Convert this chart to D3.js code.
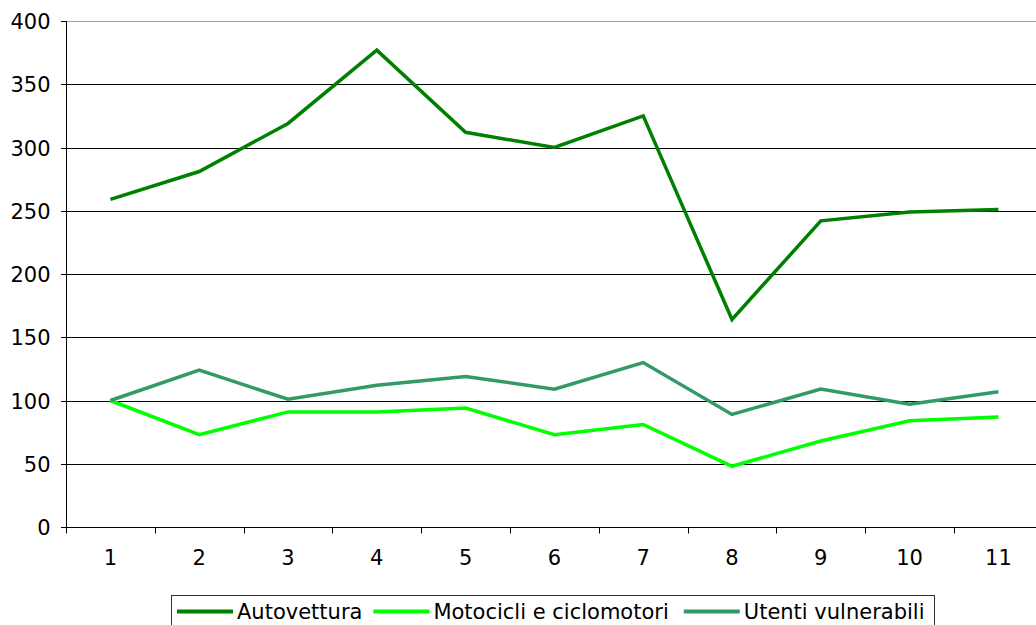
<!DOCTYPE html>
<meta charset="utf-8">
<style>
body {margin: 0; background: white;}
text {font-family: "DejaVu Sans", Verdana, sans-serif; fill: #000; font-size: 21px;}
.grid line {stroke-width: 1px; shape-rendering: crispEdges;}
.series {fill: none; stroke-width: 3.5px; stroke-linejoin: miter;}
</style>
<body>
<script src="https://cdnjs.cloudflare.com/ajax/libs/d3/7.8.5/d3.min.js"></script>
<script>
var categories = ["1", "2", "3", "4", "5", "6", "7", "8", "9", "10", "11"]
var autovettura = [259, 281, 319, 377, 312, 300, 325, 164, 242, 249, 251]
var motocicli = [100, 73, 91, 91, 94, 73, 81, 48, 68, 84, 87]
var utenti = [100, 124, 101, 112, 119, 109, 130, 89, 109, 97, 107]
var yTicks = [0, 50, 100, 150, 200, 250, 300, 350, 400]
var seriesNames = ["Autovettura", "Motocicli e ciclomotori", "Utenti vulnerabili"]
var seriesColors = ["#008000", "#00ff00", "#339966"]

var width = 1036, height = 625
var plotLeft = 66, plotTop = 21, plotBottom = 527, bandW = 88.8
var plotRight = plotLeft + bandW * categories.length

var x = d3.scaleBand().domain(categories).range([plotLeft, plotRight])
var y = d3.scaleLinear().domain([0, 400]).range([plotBottom, plotTop])

var svg = d3.select("body").append("svg")
  .attr("width", width).attr("height", height)

// gridlines (top one is the grey plot border)
svg.append("g").attr("class", "grid")
  .selectAll("line").data(yTicks.filter(function(d) { return d > 0 })).enter().append("line")
  .attr("x1", plotLeft).attr("x2", plotRight)
  .attr("y1", function(d) { return Math.round(y(d)) + 0.5 })
  .attr("y2", function(d) { return Math.round(y(d)) + 0.5 })
  .style("stroke", function(d) { return d == 400 ? "#a0a0a0" : "#000" })

// y axis
var yAxis = svg.append("g")
  .attr("transform", "translate(" + (plotLeft + 0.5) + ",0)")
  .call(d3.axisLeft(y).tickValues(yTicks).tickSize(6).tickSizeOuter(0).tickPadding(10))
yAxis.selectAll(".tick").attr("transform", function(d) { return "translate(0," + (Math.round(y(d)) + 0.5) + ")" })
yAxis.selectAll("text").style("font-size", "21px").attr("dy", "0.36em")
yAxis.selectAll("line, path").style("stroke", "#000").style("shape-rendering", "crispEdges")
yAxis.select(".domain").attr("d", "M0," + plotTop + "V" + (plotBottom + 6))

// x axis: ticks between categories
var xAxis = svg.append("g").attr("transform", "translate(0," + (Math.round(plotBottom) + 0.5) + ")")
xAxis.append("line").attr("x1", plotLeft).attr("x2", plotRight).style("stroke", "#000")
xAxis.selectAll(".tk").data(d3.range(categories.length + 1)).enter().append("line")
  .attr("x1", function(i) { return Math.round(plotLeft + i * x.step()) + 0.5 })
  .attr("x2", function(i) { return Math.round(plotLeft + i * x.step()) + 0.5 })
  .attr("y1", 0).attr("y2", 6).style("stroke", "#000")
xAxis.selectAll("text").data(categories).enter().append("text")
  .attr("x", function(d) { return x(d) + x.bandwidth() / 2 })
  .attr("y", 37).attr("text-anchor", "middle")
  .text(function(d) { return d })

// lines
var data = [autovettura, motocicli, utenti]
var line = d3.line()
  .x(function(d, i) { return x(categories[i]) + x.bandwidth() / 2 })
  .y(function(d) { return y(d) })
svg.selectAll(".series").data(data).enter().append("path")
  .attr("class", "series")
  .attr("d", line)
  .style("stroke", function(d, i) { return seriesColors[i] })

// legend
var legend = svg.append("g")
legend.append("rect")
  .attr("x", 171.5).attr("y", 595.5).attr("width", 763).attr("height", 40)
  .style("fill", "white").style("stroke", "#333")
var lx = 177
seriesNames.forEach(function(name, i) {
  legend.append("line")
    .attr("x1", lx).attr("x2", lx + 56).attr("y1", 611.5).attr("y2", 611.5)
    .style("stroke", seriesColors[i]).style("stroke-width", 4)
  var t = legend.append("text")
    .attr("x", lx + 60).attr("y", 619)
    .text(name)
  lx += 60 + t.node().getComputedTextLength() + (i == 0 ? 11 : 15)
})
</script>
